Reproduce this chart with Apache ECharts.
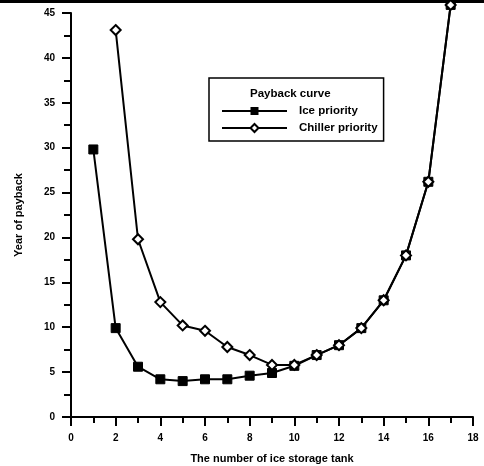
<!DOCTYPE html>
<html><head><meta charset="utf-8">
<script src="https://cdn.jsdelivr.net/npm/echarts@6/dist/echarts.min.js"></script>
<style>html,body{margin:0;padding:0;background:#fff}#c{width:484px;height:466px}</style>
</head><body><div id="c"></div>
<script>
const tanks = [1,2,3,4,5,6,7,8,9,10,11,12,13,14,15,16,17];
const icePriority = [29.8,9.9,5.6,4.2,4.0,4.2,4.2,4.6,4.9,5.7,6.9,8.0,9.9,13.0,18.0,26.2,45.9];
const chillerTanks = [2,3,4,5,6,7,8,9,10,11,12,13,14,15,16,17];
const chillerPriority = [43.1,19.8,12.8,10.2,9.6,7.8,6.9,5.8,5.8,6.9,8.0,9.9,13.0,18.0,26.2,45.9];
const xTicks = [0,2,4,6,8,10,12,14,16,18];
const yTicks = [0,5,10,15,20,25,30,35,40,45];

const font = 'Liberation Sans, Arial, sans-serif';
const chart = echarts.init(document.getElementById('c'));
chart.setOption({
  animation: false,
  backgroundColor: '#fff',
  grid: {left: 71, right: 11, top: 13, bottom: 49, containLabel: false, outerBoundsMode: 'none'},
  xAxis: {
    type: 'value', min: 0, max: 18, interval: 2,
    name: 'The number of ice storage tank', nameLocation: 'middle', nameGap: 36,
    nameTextStyle: {fontFamily: font, fontWeight: 'bold', fontSize: 11, color: '#000'},
    axisLine: {lineStyle: {color: '#000', width: 2}},
    axisTick: {inside: false, length: 9, lineStyle: {color: '#000', width: 2}},
    minorTick: {show: true, splitNumber: 2, length: 6, lineStyle: {color: '#000', width: 2}},
    axisLabel: {fontFamily: font, fontWeight: 'bold', fontSize: 10, color: '#000', margin: 16,
      formatter: v => xTicks.includes(v) ? String(v) : ''},
    splitLine: {show: false}
  },
  yAxis: {
    type: 'value', min: 0, max: 45, interval: 5,
    name: 'Year of payback', nameLocation: 'middle', nameGap: 47,
    nameTextStyle: {fontFamily: font, fontWeight: 'bold', fontSize: 11, color: '#000'},
    axisLine: {show: true, lineStyle: {color: '#000', width: 2}},
    axisTick: {show: true, length: 9, lineStyle: {color: '#000', width: 2}},
    minorTick: {show: true, splitNumber: 2, length: 7, lineStyle: {color: '#000', width: 2}},
    axisLabel: {fontFamily: font, fontWeight: 'bold', fontSize: 10, color: '#000', margin: 16,
      formatter: v => yTicks.includes(v) ? String(v) : ''},
    splitLine: {show: false}
  },
  legend: {
    left: 209, top: 78, orient: 'vertical', itemGap: 5,
    padding: [27, 6, 7, 12],
    borderColor: '#000', borderWidth: 1.5,
    itemWidth: 65, itemHeight: 10,
    textStyle: {fontFamily: font, fontWeight: 'bold', fontSize: 11.5, color: '#000', padding: [0, 0, 0, 7]},
    data: ['Ice priority', 'Chiller priority']
  },
  graphic: [
    {type: 'rect', left: 0, top: 0, shape: {width: 484, height: 3}, style: {fill: '#000'}},
    {type: 'text', left: 250, top: 88, style: {text: 'Payback curve', font: 'bold 11.5px Liberation Sans, Arial, sans-serif', fill: '#000'}}
  ],
  series: [
    {
      name: 'Ice priority', type: 'line', clip: false,
      data: tanks.map((t, i) => [t, icePriority[i]]),
      symbol: 'rect', symbolSize: 9,
      lineStyle: {color: '#000', width: 2},
      itemStyle: {color: '#000', borderColor: '#000'}
    },
    {
      name: 'Chiller priority', type: 'line', clip: false,
      data: chillerTanks.map((t, i) => [t, chillerPriority[i]]),
      symbol: 'diamond', symbolSize: 10,
      lineStyle: {color: '#000', width: 2},
      itemStyle: {color: '#fff', borderColor: '#000', borderWidth: 2}
    }
  ]
});
</script></body></html>
